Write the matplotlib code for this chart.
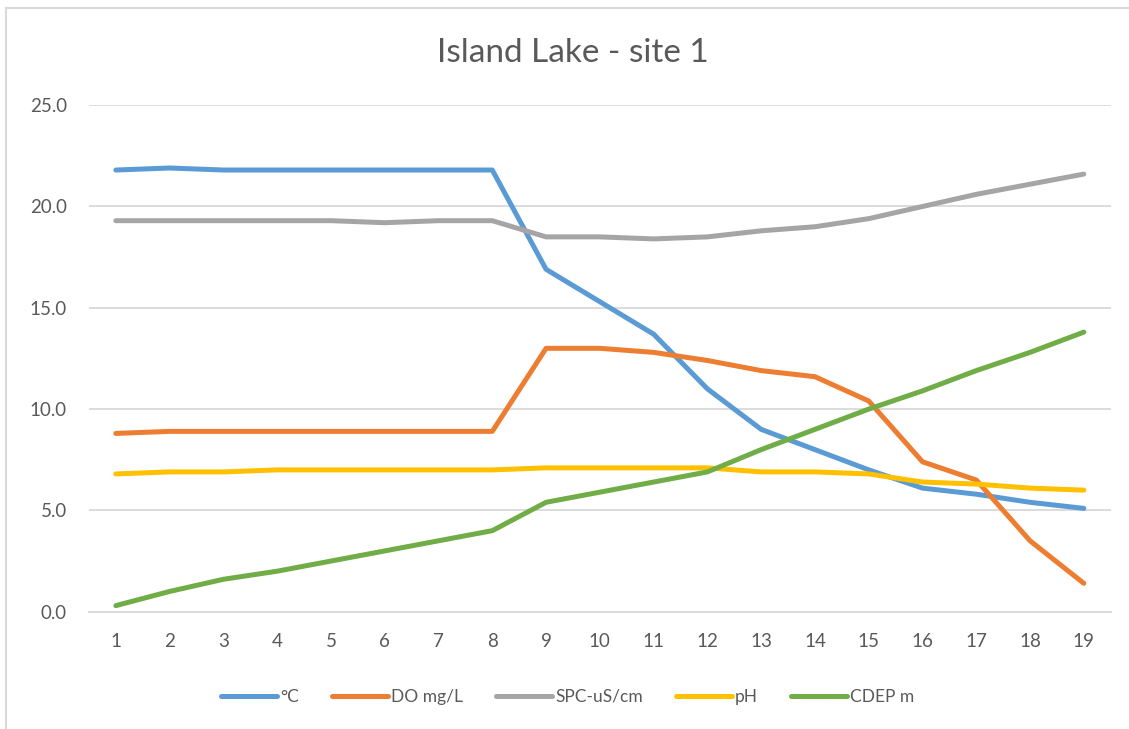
import matplotlib.pyplot as plt
from matplotlib.lines import Line2D

# profile readings, one value per sample depth step
steps = list(range(1, 20))
temp_c = [21.8, 21.9, 21.8, 21.8, 21.8, 21.8, 21.8, 21.8, 16.9, 15.3,
          13.7, 11.0, 9.0, 8.0, 7.0, 6.1, 5.8, 5.4, 5.1]
do_mgl = [8.8, 8.9, 8.9, 8.9, 8.9, 8.9, 8.9, 8.9, 13.0, 13.0,
          12.8, 12.4, 11.9, 11.6, 10.4, 7.4, 6.5, 3.5, 1.4]
spc = [19.3, 19.3, 19.3, 19.3, 19.3, 19.2, 19.3, 19.3, 18.5, 18.5,
       18.4, 18.5, 18.8, 19.0, 19.4, 20.0, 20.6, 21.1, 21.6]
ph = [6.8, 6.9, 6.9, 7.0, 7.0, 7.0, 7.0, 7.0, 7.1, 7.1,
      7.1, 7.1, 6.9, 6.9, 6.8, 6.4, 6.3, 6.1, 6.0]
cdep = [0.3, 1.0, 1.6, 2.0, 2.5, 3.0, 3.5, 4.0, 5.4, 5.9,
        6.4, 6.9, 8.0, 9.0, 10.0, 10.9, 11.9, 12.8, 13.8]

series = [
    ("°C", temp_c, "#5B9BD5"),
    ("DO mg/L", do_mgl, "#ED7D31"),
    ("SPC-uS/cm", spc, "#A5A5A5"),
    ("pH", ph, "#FFC000"),
    ("CDEP m", cdep, "#70AD47"),
]

plt.rcParams['font.family'] = ['Lato', 'DejaVu Sans']
txt = "#595959"
grid = "#D9D9D9"

fig = plt.figure(figsize=(11.29, 7.29), dpi=100)
ax = fig.add_axes([0.0788, 0.1609, 0.905, 0.6948])

for name, vals, col in series:
    ax.plot(steps, vals, color=col, lw=3.6, solid_capstyle='round',
            solid_joinstyle='round', label=name)

ax.set_xlim(0.5, 19.5)
ax.set_ylim(0, 25)
ax.set_yticks([0, 5, 10, 15, 20, 25])
ax.set_yticklabels([f"{v:.1f}" for v in [0, 5, 10, 15, 20, 25]])
ax.set_xticks(steps)
ax.yaxis.grid(True, color=grid, lw=1.3)
ax.set_axisbelow(True)
for s in ["top", "right", "left"]:
    ax.spines[s].set_visible(False)
ax.spines["bottom"].set_color(grid)
ax.spines["bottom"].set_linewidth(1.3)
ax.tick_params(axis='both', length=0, labelsize=13.5, labelcolor=txt)
ax.tick_params(axis='y', pad=16)
ax.tick_params(axis='x', pad=15)

fig.text(0.5075, 0.927, "Island Lake - site 1", ha='center', va='center',
         fontsize=24, color=txt)

handles = [Line2D([], [], color=c, lw=3.6, solid_capstyle='round') for _, _, c in series]
fig.legend(handles, [n for n, _, _ in series], loc='center', ncol=5,
           bbox_to_anchor=(0.503, 0.044), frameon=False, fontsize=12.5,
           labelcolor=txt, handlelength=3.2, handletextpad=0.2, columnspacing=1.9)

# chart area border (top and left edges)
fig.add_artist(Line2D([6 / 1129, 1.0], [1 - 8 / 729, 1 - 8 / 729],
                      transform=fig.transFigure, color=grid, lw=1.5))
fig.add_artist(Line2D([6 / 1129, 6 / 1129], [0.0, 1 - 8 / 729],
                      transform=fig.transFigure, color=grid, lw=1.5))

fig.savefig("out.png", dpi=100)
